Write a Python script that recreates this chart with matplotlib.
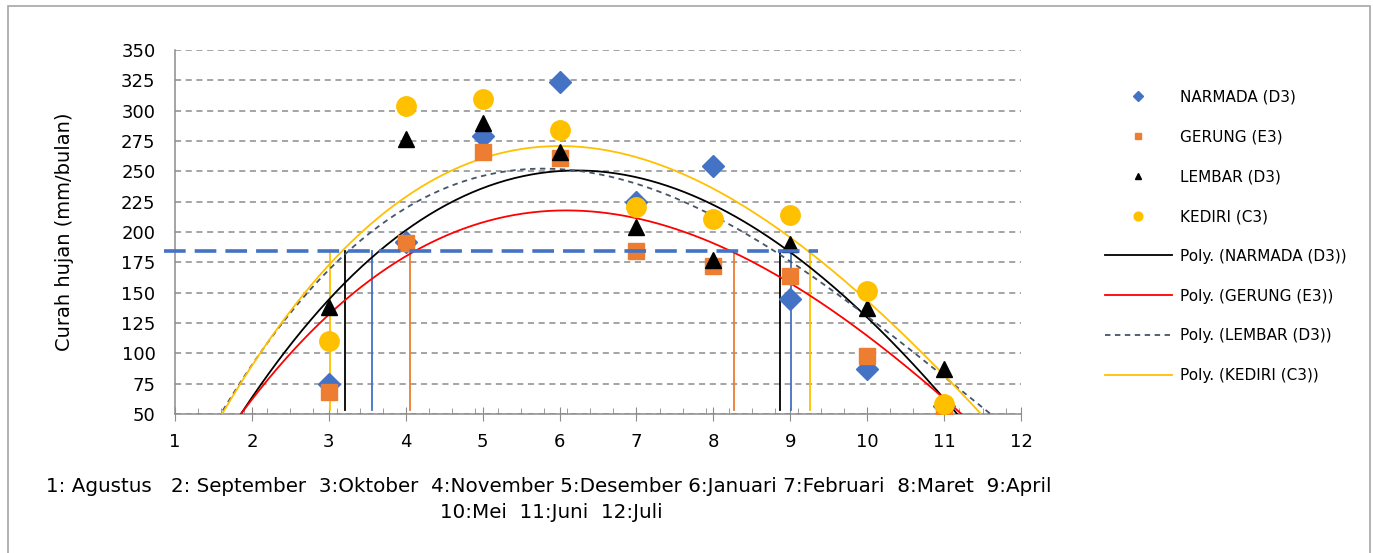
import numpy as np
import matplotlib
matplotlib.use("Agg")
from matplotlib import pyplot as plt
from matplotlib.patches import Rectangle

# month index (1 = Agustus ... 12 = Juli); months 1, 2 and 12 fall below the 50 mm axis floor
months = [1, 2, 3, 4, 5, 6, 7, 8, 9, 10, 11, 12]

narmada = [14, 15, 75, 192, 279, 324, 225, 254, 145, 87, 57, 13]
gerung = [14, 17, 68, 191, 266, 261, 184, 172, 164, 98, 53, 21]
lembar = [35, 0, 138, 277, 290, 266, 204, 177, 190, 137, 87, 27]
kediri = [39, 2, 110, 304, 310, 284, 221, 211, 214, 151, 58, 29]

threshold = 184
# hand drawn crossing markers (x position, colour)
cross_x = [3.02, 3.21, 3.56, 4.06, 8.27, 8.87, 9.01, 9.26]
cross_col = ['#FFC000', 'black', '#4472C4', '#ED7D31',
             '#ED7D31', 'black', '#4472C4', '#FFC000']

note_line1 = "1: Agustus   2: September  3:Oktober  4:November 5:Desember 6:Januari 7:Februari  8:Maret  9:April"
note_line2 = "10:Mei  11:Juni  12:Juli"

W, H = 1373, 553
fig = plt.figure(figsize=(W / 100, H / 100), dpi=100)
ax = fig.add_axes([175 / W, 1 - 414 / H, (1021 - 175) / W, (414 - 50) / H])

# chart border
fig.patches.append(Rectangle((8 / W, -0.05), (1370 - 8) / W, 1 - 6 / H + 0.05,
                             transform=fig.transFigure, fill=False,
                             edgecolor='#A6A6A6', linewidth=1.2))

series = [
    ('NARMADA (D3)', narmada, 'D', '#4472C4', 11, 'black', '-'),
    ('GERUNG (E3)', gerung, 's', '#ED7D31', 11, 'red', '-'),
    ('LEMBAR (D3)', lembar, '^', 'black', 11, '#44546A', (0, (3, 2.5))),
    ('KEDIRI (C3)', kediri, 'o', '#FFC000', 14, '#FFC000', '-'),
]

point_handles = []
for name, vals, mk, col, ms, lc, ls in series:
    h, = ax.plot(months, vals, linestyle='none', marker=mk, color=col,
                 markersize=ms, label=name, zorder=4)
    point_handles.append(h)

# polynomial (order 3) trendlines
xx = np.linspace(1, 12, 300)
line_handles = []
for name, vals, mk, col, ms, lc, ls in series:
    coef = np.polyfit(months, vals, 3)
    h, = ax.plot(xx, np.polyval(coef, xx), color=lc, linestyle=ls,
                 linewidth=1.3, label='Poly. (' + name + ')', zorder=3)
    line_handles.append(h)

ax.plot([0.86, 9.36], [threshold, threshold], color='#4472C4',
        linestyle=(0, (6, 2.5)), linewidth=2.6, clip_on=False, zorder=5)
for cx, cc in zip(cross_x, cross_col):
    ax.plot([cx, cx], [53, threshold], color=cc, linewidth=1.3, zorder=2)

ax.set_xlim(1, 12)
ax.set_ylim(50, 350)
ax.set_xticks(range(1, 13))
ax.set_xticks(np.arange(1.3, 12, 0.3), minor=True)
ax.set_yticks(range(50, 351, 25))
ax.yaxis.grid(True, color='#8C8C8C', linestyle=(0, (4, 3)), linewidth=1.1)
ax.set_axisbelow(True)

for s in ['top', 'right']:
    ax.spines[s].set_visible(False)
for s in ['left', 'bottom']:
    ax.spines[s].set_color('#8C8C8C')
    ax.spines[s].set_linewidth(1.1)

ax.tick_params(axis='x', which='major', direction='inout', length=10,
               color='#8C8C8C', labelsize=13, pad=9)
ax.tick_params(axis='x', which='minor', direction='in', length=4,
               color='#8C8C8C')
ax.tick_params(axis='y', length=0, labelsize=13, pad=14)
ax.set_ylabel('Curah hujan (mm/bulan)', fontsize=14, labelpad=34)

leg = ax.legend(handles=point_handles + line_handles, loc='upper left',
                bbox_to_anchor=(1091 / W, 1 - 76 / H), bbox_transform=fig.transFigure,
                frameon=False, fontsize=11, markerscale=0.45,
                handlelength=4.4, handletextpad=0.5, labelspacing=1.62)

fig.text(549 / W, 1 - 487 / H, note_line1, ha='center', va='center', fontsize=14.3)
fig.text(551 / W, 1 - 513 / H, note_line2, ha='center', va='center', fontsize=14.3)

fig.savefig('out.png', dpi=100)
